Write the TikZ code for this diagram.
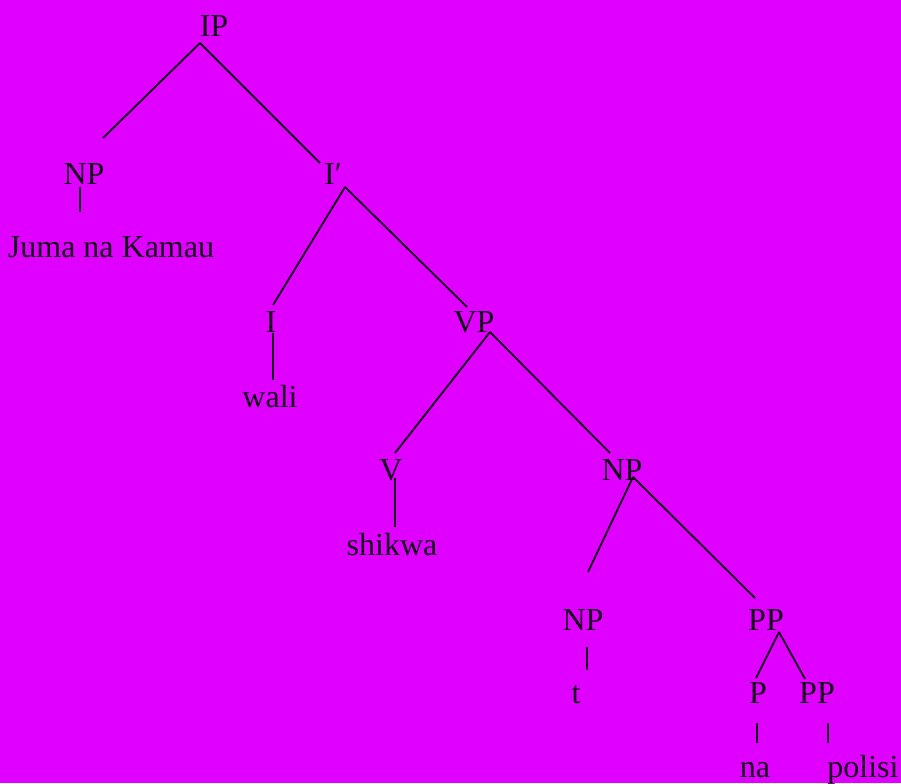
\documentclass[tikz,border=0pt]{standalone}
\usepackage{fontspec}
\setmainfont{Liberation Serif}
\usetikzlibrary{calc}
\definecolor{bgmag}{RGB}{224,0,255}
\definecolor{ink}{RGB}{20,5,25}
\begin{document}
\begin{tikzpicture}[x=1pt,y=-1pt,
  lbl/.style={inner sep=0pt, anchor=base, text=ink, font=\fontsize{32}{38}\selectfont},
  branch/.style={draw=ink, line width=1.8pt}]
% Background of the page
\fill[bgmag] (0,0) rectangle (901,783);
% The labels of the tree
\node[lbl] (ip) at (214,37) {IP};
\node[lbl] (np1) at (84,185) {NP};
\node[lbl] (ibar) at (333,185) {I′};
\node[lbl] (juma) at (111,258) {Juma na Kamau};
\node[lbl] (i) at (271,332) {I};
\node[lbl] (vp) at (474,332) {VP};
\node[lbl] (wali) at (270,407) {wali};
\node[lbl] (v) at (391,480) {V};
\node[lbl] (np2) at (622,480) {NP};
\node[lbl] (shikwa) at (392,555) {shikwa};
\node[lbl] (np3) at (583,630) {NP};
\node[lbl] (pp1) at (766,630) {PP};
\node[lbl] (t) at (576,703) {t};
\node[lbl] (p) at (758,703) {P};
\node[lbl] (pp2) at (817,703) {PP};
\node[lbl] (na) at (755,777) {na};
\node[lbl] (polisi) at (863,777) {polisi};
% The branches, as offsets from the baseline of each label
\foreach \a/\ax/\ay/\b/\bx/\by in {
  ip/-14/6/np1/19/-47, ip/-14/6/ibar/-13/-22,
  np1/-4/2/juma/-31/-46,
  ibar/12/2/i/2/-27, ibar/12/2/vp/-7/-25,
  i/2/1/wali/3/-27,
  vp/16/0/v/4/-27, vp/16/0/np2/-12/-27,
  v/4/-2/shikwa/3/-28,
  np2/11/-3/np3/5/-58, np2/11/-3/pp1/-11/-32,
  np3/4/17/t/11/-33,
  pp1/13/2/p/-2/-25, pp1/13/2/pp2/-12/-24,
  p/-1/20/na/2/-34,
  pp2/11/20/polisi/-35/-34}
{
  \draw[branch] ($(\a.base)+(\ax,\ay)$) -- ($(\b.base)+(\bx,\by)$);
}
\end{tikzpicture}
\end{document}
